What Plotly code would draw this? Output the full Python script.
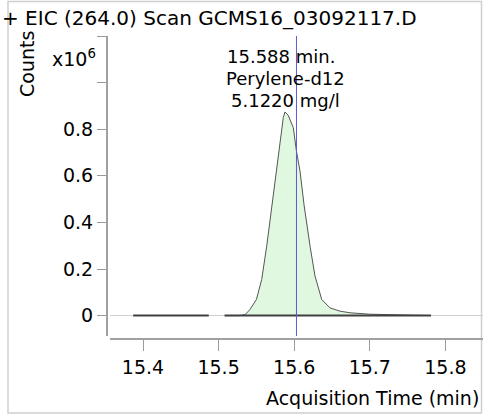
import plotly.graph_objects as go

# ---- data ----
baseline_times = [15.387, 15.487, None, 15.508, 15.781]
baseline_counts = [0, 0, None, 0, 0]

peak_times = [15.508, 15.515, 15.522, 15.528, 15.535, 15.5415, 15.550, 15.557,
              15.5636, 15.570, 15.5746, 15.579, 15.5856, 15.5878, 15.592, 15.5988,
              15.603, 15.6077, 15.613, 15.621, 15.6275, 15.6364, 15.6474, 15.6606,
              15.674, 15.700, 15.740, 15.781]
peak_counts = [0.0, 0.0, 0.0, 0.0, 0.004, 0.026, 0.069, 0.155,
               0.297, 0.455, 0.577, 0.690, 0.850, 0.874, 0.860, 0.807,
               0.705, 0.620, 0.476, 0.297, 0.170, 0.069, 0.033, 0.019,
               0.012, 0.006, 0.003, 0.0]

y_tick_vals = [0, 0.2, 0.4, 0.6, 0.8]
y_tick_text = ["0", "0.2", "0.4", "0.6", "0.8"]
y_minor_vals = [1.0, 1.2]
x_tick_vals = [15.4, 15.5, 15.6, 15.7, 15.8]
x_tick_text = ["15.4", "15.5", "15.6", "15.7", "15.8"]

marker_time = 15.603
peak_label = ["15.588 min.", "Perylene-d12", "5.1220 mg/l"]
title_text = "+ EIC (264.0) Scan GCMS16_03092117.D"

# ---- layout helpers ----
W, H = 483, 416
L, T, B = 107, 36, 339  # plot area pixel bounds
R = 483
PW, PH = R - L, B - T

def px(xp):
    return (xp - L) / PW

def py(yp):
    return (B - yp) / PH

FONT = "DejaVu Sans"
FS = 19

fig = go.Figure()
fig.add_trace(go.Scatter(x=peak_times, y=peak_counts, mode="lines",
                         line=dict(color="#555555", width=1),
                         fill="tozeroy", fillcolor="#e0f8e0",
                         hoverinfo="skip", showlegend=False))
fig.add_trace(go.Scatter(x=baseline_times, y=baseline_counts, mode="lines",
                         line=dict(color="#404040", width=2),
                         connectgaps=False, hoverinfo="skip", showlegend=False))

fig.add_shape(type="line", xref="x", yref="y domain", x0=marker_time, x1=marker_time,
              y0=0, y1=1, line=dict(color="#5a5ad8", width=1))

# frame
fig.add_shape(type="rect", xref="paper", yref="paper",
              x0=px(8), x1=px(481.5), y0=py(413), y1=py(1.5),
              line=dict(color="#cfcfcf", width=1.5), layer="below")

annotations = []
annotations.append(dict(text=title_text, xref="paper", yref="paper", x=px(0), y=py(18),
                        xanchor="left", yanchor="middle", showarrow=False,
                        font=dict(family=FONT, size=FS + 1, color="black")))
annotations.append(dict(text="Counts", xref="paper", yref="paper", x=px(27), y=py(64),
                        xanchor="center", yanchor="middle", textangle=-90, showarrow=False,
                        font=dict(family=FONT, size=FS, color="black")))
annotations.append(dict(text="x10<sup>6</sup>", xref="paper", yref="paper", x=px(98), y=py(58),
                        xanchor="right", yanchor="middle", showarrow=False,
                        font=dict(family=FONT, size=FS, color="black")))
annotations.append(dict(text="Acquisition Time (min)", xref="paper", yref="paper",
                        x=px(481), y=py(398), xanchor="right", yanchor="middle",
                        showarrow=False, font=dict(family=FONT, size=FS, color="black")))
label_y = [56, 78, 100]
label_shift = [-4, 1, 1]
for txt, yp, sh in zip(peak_label, label_y, label_shift):
    annotations.append(dict(text=txt, xref="x", yref="paper", x=peak_times[13], y=py(yp),
                            xshift=sh, xanchor="center", yanchor="middle", showarrow=False,
                            font=dict(family=FONT, size=FS - 1, color="black")))

x0_val = 15.4 - (143 - 110) / 756.0
x1_val = 15.4 + (483 - 143) / 756.0
y_top = 1.2
y_bot = 1.2 - (336 - 36) / 233.0

fig.update_layout(
    width=W, height=H,
    margin=dict(l=L, r=W - R, t=T, b=H - B, pad=0),
    paper_bgcolor="white", plot_bgcolor="white",
    font=dict(family=FONT, size=FS, color="black"),
    annotations=annotations,
    xaxis=dict(range=[x0_val, x1_val], domain=[3 / PW, 1], anchor="free", position=0,
               tickvals=x_tick_vals, ticktext=x_tick_text, ticks="outside",
               ticklen=11, tickcolor="#9a9a9a", tickwidth=1,
               showline=True, linecolor="#a0a0a0", linewidth=2,
               showgrid=False, zeroline=False,
               tickfont=dict(family=FONT, size=FS, color="black")),
    yaxis=dict(range=[y_bot, y_top], domain=[3 / PH, 1], anchor="free", position=0,
               tickvals=y_tick_vals, ticktext=y_tick_text, ticks="outside",
               ticklen=9, tickcolor="#9a9a9a", tickwidth=1,
               minor=dict(tickvals=y_minor_vals, ticks="outside", ticklen=9,
                          tickcolor="#9a9a9a", tickwidth=1, showgrid=False),
               showline=True, linecolor="#a0a0a0", linewidth=2,
               showgrid=False, zeroline=True, zerolinecolor="#d0d0d0", zerolinewidth=1,
               tickfont=dict(family=FONT, size=FS, color="black")),
)

fig.write_html("out.html", config={"displayModeBar": False},
               post_script="document.body.style.margin='0';")
